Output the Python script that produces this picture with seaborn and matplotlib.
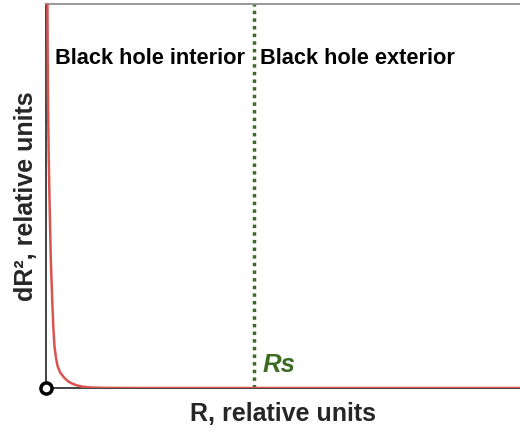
import numpy as np
import matplotlib
matplotlib.use("Agg")
import matplotlib.pyplot as plt
import seaborn as sns

# points (relative units)
r_vals = [0.003, 0.0036, 0.0042, 0.0055, 0.0074, 0.010, 0.0131, 0.0155,
          0.0179, 0.021, 0.0243, 0.030, 0.039, 0.047, 0.056, 0.066,
          0.077, 0.095, 0.13, 0.2, 0.439, 0.7, 1.0]
dr2_vals = [1.0, 0.86, 0.75, 0.62, 0.49, 0.34, 0.229, 0.158,
            0.108, 0.079, 0.058, 0.040, 0.026, 0.017, 0.011, 0.0065,
            0.0035, 0.0013, 0.0003, 0.0, 0.0, 0.0, 0.0]
rs = 0.439

sns.set_style("white")
plt.rcParams['font.family'] = ['Liberation Sans', 'DejaVu Sans']

fig = plt.figure(figsize=(5.2, 4.32), dpi=100)
ax = fig.add_axes([46 / 520, 44 / 432, 474 / 520, 384 / 432])

sns.lineplot(x=r_vals, y=dr2_vals, ax=ax, color='#d9534f', linewidth=1.8,
             estimator=None, sort=False, zorder=3)
ax.axvline(rs, color='#3c6b24', linestyle=(0, (1, 1.2)), linewidth=2.5, zorder=2)

ax.set_xlim(0, 1)
ax.set_ylim(0, 1)
ax.set_xticks([])
ax.set_yticks([])
for s in ['left', 'bottom']:
    ax.spines[s].set_color('#222222')
    ax.spines[s].set_linewidth(1.2)
ax.spines['top'].set_color('#888888')
ax.spines['top'].set_linewidth(1.2)
ax.spines['right'].set_visible(False)

ax.plot([0], [0], 'o', markersize=8, markerfacecolor='white',
        markeredgecolor='black', markeredgewidth=2.5, clip_on=False, zorder=5)

ax.text(rs - 0.019, 0.857, 'Black hole interior', ha='right', va='center',
        fontsize=15.7, fontweight='bold', color='black',
        bbox=dict(facecolor='white', edgecolor='none', pad=1))
ax.text(rs + 0.013, 0.857, 'Black hole exterior', ha='left', va='center',
        fontsize=15.7, fontweight='bold', color='black',
        bbox=dict(facecolor='white', edgecolor='none', pad=1))
ax.text(rs + 0.017, 0.06, 'Rs', ha='left', va='center', fontsize=18.5,
        fontweight='bold', fontstyle='italic', color='#3c6b24')

ax.set_xlabel('R, relative units', fontsize=18, fontweight='bold', labelpad=10)
ax.set_ylabel('dR², relative units', fontsize=18, fontweight='bold', labelpad=6)

fig.savefig('out.png', dpi=100)
